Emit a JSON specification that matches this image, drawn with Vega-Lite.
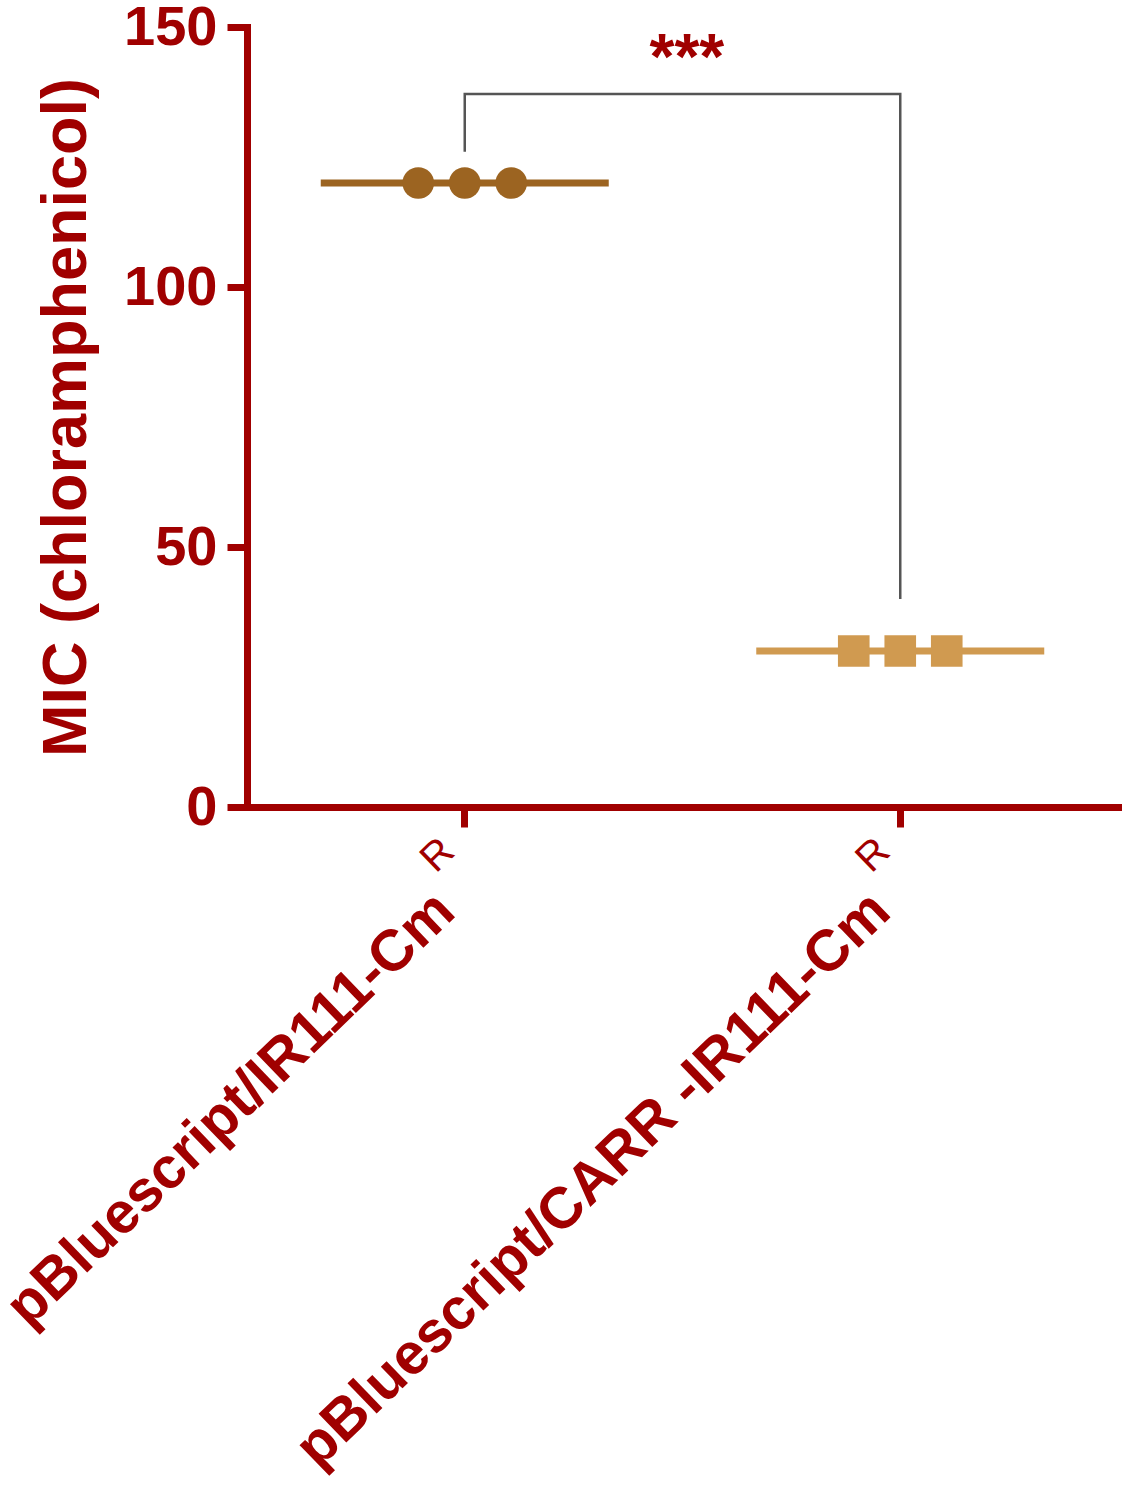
{
  "$schema": "https://vega.github.io/schema/vega-lite/v6.json",
  "width": 871,
  "height": 780,
  "autosize": {"type": "none"},
  "padding": {"left": 247, "top": 27, "right": 8, "bottom": 679},
  "background": "white",
  "config": {
    "view": {"stroke": null},
    "font": "Liberation Sans",
    "axis": {"labelFont": "Liberation Sans", "titleFont": "Liberation Sans", "grid": false}
  },
  "datasets": {
    "mic": [
      {"group": "pBluescript/IR111-Cm", "rep": 1, "mic": 120},
      {"group": "pBluescript/IR111-Cm", "rep": 2, "mic": 120},
      {"group": "pBluescript/IR111-Cm", "rep": 3, "mic": 120},
      {"group": "pBluescript/CARR -IR111-Cm", "rep": 1, "mic": 30},
      {"group": "pBluescript/CARR -IR111-Cm", "rep": 2, "mic": 30},
      {"group": "pBluescript/CARR -IR111-Cm", "rep": 3, "mic": 30}
    ],
    "means": [
      {"group": "pBluescript/IR111-Cm", "mean": 120},
      {"group": "pBluescript/CARR -IR111-Cm", "mean": 30}
    ],
    "bracket": [
      {"step": 1, "group": "pBluescript/IR111-Cm", "y": 126},
      {"step": 2, "group": "pBluescript/IR111-Cm", "y": 137.1},
      {"step": 3, "group": "pBluescript/CARR -IR111-Cm", "y": 137.1},
      {"step": 4, "group": "pBluescript/CARR -IR111-Cm", "y": 40}
    ],
    "sup": [
      {"group": "pBluescript/IR111-Cm", "label": "R"},
      {"group": "pBluescript/CARR -IR111-Cm", "label": "R"}
    ],
    "sig": [
      {"pos": 0.505, "y": 140, "label": "***"}
    ]
  },
  "layer": [
    {
      "encoding": {
        "x": {
          "field": "group",
          "type": "nominal",
          "sort": ["pBluescript/IR111-Cm", "pBluescript/CARR -IR111-Cm"],
          "scale": {"type": "band", "paddingInner": 0, "paddingOuter": 0},
          "axis": {
            "title": null,
            "labelAngle": -44,
            "labelAlign": "right",
            "labelBaseline": "middle",
            "labelFontSize": 58,
            "labelFontWeight": "bold",
            "labelColor": "#a00000",
            "labelPadding": 75,
            "labelOffset": -19,
            "labelLimit": 0,
            "labelOverlap": false,
            "domainColor": "#a00000",
            "domainWidth": 7,
            "domainCap": "square",
            "tickColor": "#a00000",
            "tickWidth": 7,
            "tickSize": 20
          }
        }
      },
      "layer": [
        {
          "data": {"name": "means"},
          "mark": {"type": "tick", "thickness": 7, "size": 288, "opacity": 1},
          "encoding": {
            "y": {
              "field": "mean",
              "type": "quantitative",
              "scale": {"domain": [0, 150], "nice": false},
              "axis": {
                "title": "MIC (chloramphenicol)",
                "values": [0, 50, 100, 150],
                "labelFontSize": 56,
                "labelFontWeight": "bold",
                "labelColor": "#a00000",
                "labelPadding": 10,
                "labelFlush": false,
                "labelOverlap": false,
                "titleFontSize": 63,
                "titleFontWeight": "bold",
                "titleColor": "#a00000",
                "titlePadding": 25,
                "domainColor": "#a00000",
                "domainWidth": 7,
                "domainCap": "square",
                "tickColor": "#a00000",
                "tickWidth": 7,
                "tickSize": 20
              }
            },
            "color": {
              "field": "group",
              "type": "nominal",
              "scale": {"domain": ["pBluescript/IR111-Cm", "pBluescript/CARR -IR111-Cm"], "range": ["#9c6421", "#d09a50"]},
              "legend": null
            }
          }
        },
        {
          "data": {"name": "mic"},
          "mark": {"type": "point", "filled": true, "size": 1000, "opacity": 1},
          "encoding": {
            "xOffset": {"field": "rep", "type": "nominal", "scale": {"type": "point", "padding": 0, "range": [171.25, 264.25]}},
            "y": {"field": "mic", "type": "quantitative"},
            "color": {"field": "group", "type": "nominal", "legend": null},
            "shape": {
              "field": "group",
              "type": "nominal",
              "scale": {"domain": ["pBluescript/IR111-Cm", "pBluescript/CARR -IR111-Cm"], "range": ["circle", "square"]},
              "legend": null
            }
          }
        },
        {
          "data": {"name": "bracket"},
          "mark": {"type": "line", "color": "#555555", "strokeWidth": 2.5},
          "encoding": {
            "y": {"field": "y", "type": "quantitative"},
            "order": {"field": "step", "type": "quantitative"}
          }
        },
        {
          "data": {"name": "sup"},
          "mark": {"type": "text", "angle": 316, "fontSize": 40, "fontWeight": "normal", "color": "#a00000", "align": "center", "baseline": "middle", "dx": -53, "dy": 16},
          "encoding": {
            "y": {"datum": 0},
            "text": {"field": "label"}
          }
        }
      ]
    },
    {
      "data": {"name": "sig"},
      "mark": {"type": "text", "fontSize": 64, "fontWeight": "bold", "color": "#a00000", "align": "center", "baseline": "alphabetic"},
      "encoding": {
        "x": {"field": "pos", "type": "quantitative", "scale": {"domain": [0, 1]}, "axis": null},
        "y": {"field": "y", "type": "quantitative"},
        "text": {"field": "label"}
      }
    }
  ],
  "resolve": {"scale": {"x": "independent"}}
}
